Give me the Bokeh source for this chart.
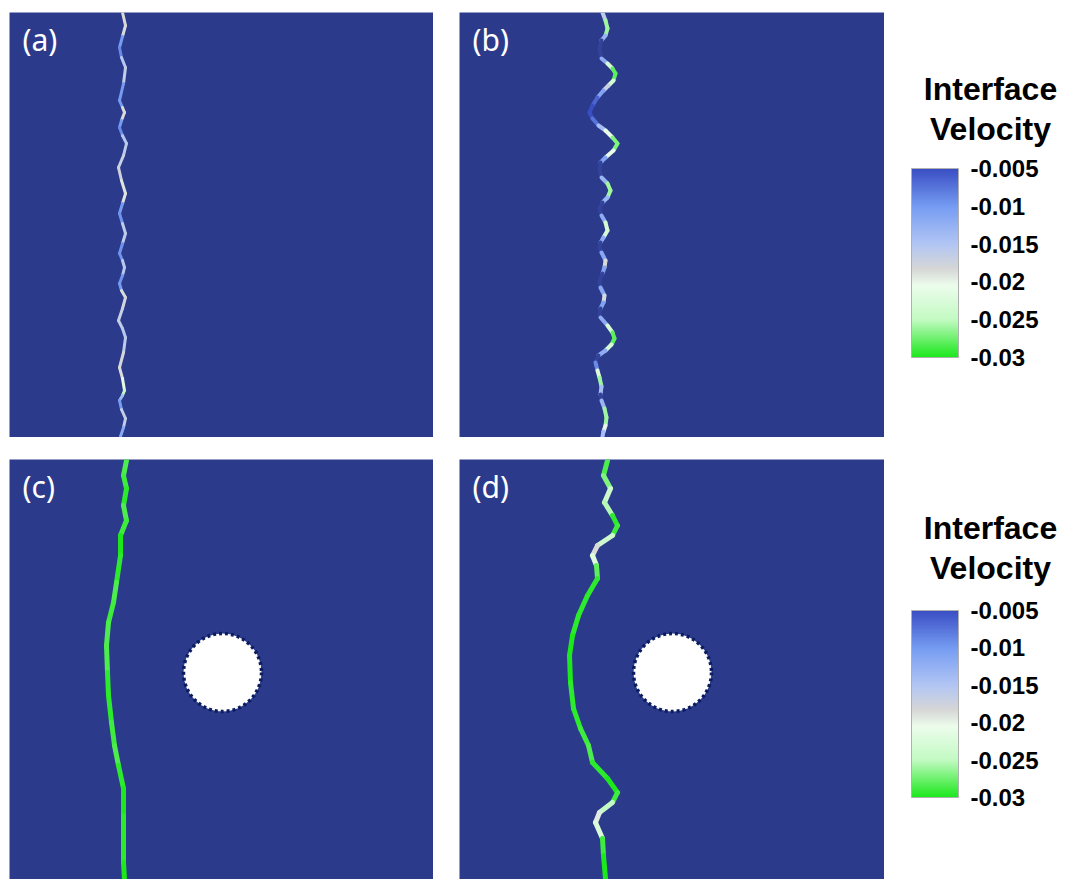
import numpy as np
from bokeh.plotting import figure
from bokeh.layouts import row, column, Spacer
from bokeh.models import (Range1d, ColumnDataSource, LinearColorMapper, Label, ColorBar,
                          FixedTicker, CustomJSTickFormatter, AllLabels)
from bokeh.transform import linear_cmap
from bokeh.embed import file_html
from bokeh.resources import INLINE

# ---------------- data (panel pixel-like grid units, y measured from top) ----------------
# (a) flat front, small ripples
ya = [0, 13, 24, 35, 45, 55, 71, 88, 95, 100, 108, 115, 123, 131, 143, 155, 168, 181, 191, 201,
      211, 221, 231, 241, 248, 255, 263, 271, 278, 285, 296, 308, 316, 325, 340, 355, 366, 378, 383, 388,
      397, 406, 415, 424]
xa = [113, 116, 113, 110, 112, 116, 114, 110, 113, 115, 112, 110, 113, 117, 114, 109, 112, 116, 113, 110,
      113, 116, 113, 110, 113, 115, 113, 110, 112, 116, 113, 109, 113, 116, 114, 110, 113, 115, 113, 110,
      112, 116, 114, 111]
va = [-0.013, -0.024, -0.013, -0.007, -0.011, -0.02, -0.013, -0.007, -0.013, -0.024,
      -0.013, -0.007, -0.011, -0.02, -0.012, -0.022, -0.013, -0.025, -0.013, -0.007,
      -0.012, -0.02, -0.012, -0.007, -0.012, -0.019, -0.012, -0.007, -0.013, -0.024,
      -0.012, -0.022, -0.011, -0.02, -0.012, -0.024, -0.013, -0.03, -0.02, -0.007,
      -0.013, -0.02, -0.013, -0.01]

# (b) front with larger undulations
yb = [0, 8, 16, 23, 28, 37, 46, 51, 56, 61, 68, 73, 78, 85, 93, 100, 106, 113, 118, 125,
      131, 138, 145, 150, 157, 165, 171, 178, 185, 190, 196, 203, 210, 218, 225, 230, 235, 240, 248, 255,
      261, 268, 275, 283, 290, 296, 302, 305, 313, 320, 326, 332, 338, 343, 350, 358, 365, 374, 382, 388,
      396, 405, 413, 419, 424]
xb = [143, 146, 148, 146, 142, 140, 142, 148, 153, 156, 154, 149, 144, 138, 133, 130, 133, 139, 146, 153,
      158, 154, 146, 141, 140, 142, 148, 151, 148, 143, 140, 142, 146, 148, 144, 141, 140, 142, 146, 145,
      143, 140, 141, 145, 144, 141, 140, 141, 148, 153, 155, 152, 146, 139, 136, 138, 140, 142, 141, 142,
      145, 147, 146, 144, 143]
vb = [-0.01, -0.022, -0.03, -0.022, -0.004, -0.002, -0.004, -0.02, -0.026, -0.03,
      -0.026, -0.02, -0.014, -0.008, -0.005, -0.005, -0.005, -0.01, -0.018, -0.024,
      -0.03, -0.024, -0.018, -0.004, -0.002, -0.004, -0.022, -0.03, -0.022, -0.004,
      -0.002, -0.004, -0.02, -0.026, -0.02, -0.004, -0.002, -0.004, -0.019, -0.018,
      -0.004, -0.002, -0.004, -0.019, -0.018, -0.004, -0.002, -0.004, -0.02, -0.026,
      -0.03, -0.026, -0.02, -0.004, -0.002, -0.016, -0.028, -0.024, -0.004, -0.004,
      -0.022, -0.03, -0.022, -0.018, -0.01]

# (c) front with obstacle
yc = [1, 16, 29, 46, 61, 76, 96, 123, 143, 163, 186, 213, 236, 263, 286, 306, 329, 356, 379, 403, 420]
xc = [117, 114, 117, 114, 117, 111, 111, 107, 104, 99, 97, 98, 99, 102, 105, 109, 114, 114, 114, 114, 115]
vc = [-0.029, -0.028, -0.03, -0.029, -0.028, -0.03, -0.03, -0.029, -0.028, -0.03, -0.027,
      -0.03, -0.029, -0.03, -0.028, -0.029, -0.03, -0.03, -0.029, -0.03, -0.03]

# (d) undulating front with obstacle
yd = [1, 16, 29, 43, 56, 66, 76, 86, 96, 106, 119, 136, 156, 176, 196, 223, 249, 269, 286, 303,
      319, 333, 343, 353, 363, 379, 396, 419]
xd = [148, 144, 151, 145, 153, 158, 153, 138, 133, 137, 138, 128, 119, 113, 110, 111, 114, 121, 129, 133,
      148, 158, 153, 140, 136, 143, 144, 146]
vd = [-0.029, -0.028, -0.026, -0.022, -0.029, -0.03, -0.028, -0.02, -0.017, -0.027,
      -0.029, -0.03, -0.029, -0.03, -0.03, -0.03, -0.029, -0.03, -0.028, -0.029,
      -0.03, -0.03, -0.028, -0.022, -0.017, -0.028, -0.03, -0.03]

# obstacle (panels c, d)
obstacle_x = [213]
obstacle_y = [213]
obstacle_r = [39]

panel_labels = ["(a)", "(b)", "(c)", "(d)"]
cb_title = ["Interface", "Velocity"]
cb_ticks = [-0.005, -0.01, -0.015, -0.02, -0.025, -0.03]
cb_tick_labels = ["-0.005", "-0.01", "-0.015", "-0.02", "-0.025", "-0.03"]
VMIN, VMAX = -0.03, -0.005

# ---------------- styling ----------------
BG = "#2c3a8c"
ABOVE = "#33429a"
stops = [(0.0, (28, 232, 28)), (0.2, (195, 250, 195)), (0.38, (236, 252, 236)),
         (0.47, (214, 214, 214)), (0.6, (178, 198, 244)), (0.8, (118, 156, 242)),
         (1.0, (58, 78, 196))]


def make_palette(n=256):
    out = []
    for t in np.linspace(0, 1, n):
        for (t0, c0), (t1, c1) in zip(stops[:-1], stops[1:]):
            if t0 <= t <= t1:
                f = (t - t0) / (t1 - t0)
                c = [int(round(a + (b - a) * f)) for a, b in zip(c0, c1)]
                out.append("#%02x%02x%02x" % tuple(c))
                break
    return out


PALETTE = make_palette()


def panel(w, h, label):
    p = figure(width=w, height=h, x_range=Range1d(0, w), y_range=Range1d(h, 0),
               output_backend="svg", toolbar_location=None, min_border=0,
               x_axis_location=None, y_axis_location=None)
    p.grid.visible = False
    p.background_fill_color = BG
    p.border_fill_color = "white"
    p.outline_line_color = None
    p.add_layout(Label(x=13, y=27, text=label, text_color="white", text_font="Noto Sans",
                       text_font_size="30px", text_baseline="middle", text_align="left"))
    return p


def add_front(p, xs, ys, vs, lw):
    xs = np.asarray(xs, float)
    ys = np.asarray(ys, float)
    vs = np.asarray(vs, float)
    src = ColumnDataSource(dict(x0=xs[:-1], y0=ys[:-1], x1=xs[1:], y1=ys[1:],
                                v=(vs[:-1] + vs[1:]) / 2))
    p.segment("x0", "y0", "x1", "y1", source=src,
              line_color=linear_cmap("v", PALETTE, VMIN, VMAX, high_color=ABOVE),
              line_width=lw, line_cap="round", line_join="round")


def add_obstacle(p):
    src = ColumnDataSource(dict(x=obstacle_x, y=obstacle_y, r=obstacle_r))
    p.circle(x="x", y="y", radius="r", source=src, fill_color="white",
             line_color="#0b1d5e", line_width=3.5, line_dash="3 3")


def colorbar_fig(h, bar_bottom, bar_h, title_y):
    cb = figure(width=181, height=h, x_range=Range1d(0, 181), y_range=Range1d(h, 0),
                output_backend="svg", toolbar_location=None, min_border=0,
                x_axis_location=None, y_axis_location=None)
    cb.grid.visible = False
    cb.outline_line_color = None
    cb.background_fill_color = "white"
    mapper = LinearColorMapper(palette=PALETTE, low=VMIN, high=VMAX)
    bar = ColorBar(color_mapper=mapper, orientation="vertical", width=47, height=bar_h,
                   location=(27, bar_bottom), padding=0, margin=0,
                   ticker=FixedTicker(ticks=cb_ticks),
                   formatter=CustomJSTickFormatter(
                       code="return tick.toFixed(3).replace(/0+$/, '');"),
                   major_label_policy=AllLabels(),
                   label_standoff=12, major_tick_line_color=None, minor_tick_line_color=None,
                   bar_line_color="#b0b0b0", background_fill_alpha=0, border_line_color=None,
                   major_label_text_font="Liberation Sans", major_label_text_font_style="bold",
                   major_label_text_font_size="24px", major_label_text_color="black")
    cb.add_layout(bar, "center")
    for txt, ty in zip(cb_title, title_y):
        cb.add_layout(Label(x=106, y=ty, text=txt, text_align="center",
                            text_baseline="middle", text_font="Liberation Sans",
                            text_font_style="bold", text_font_size="32px", text_color="black"))
    return cb


pa = panel(424, 425, panel_labels[0])
add_front(pa, xa, ya, va, 3)
pb = panel(425, 425, panel_labels[1])
add_front(pb, xb, yb, vb, 4)
pc = panel(424, 420, panel_labels[2])
add_front(pc, xc, yc, vc, 5)
add_obstacle(pc)
pd = panel(425, 420, panel_labels[3])
add_front(pd, xd, yd, vd, 5)
add_obstacle(pd)

cbt = colorbar_fig(425, 80, 189, [76, 116])
cbb = colorbar_fig(420, 82, 187, [68, 108])

top = row(Spacer(width=9, height=425), pa, Spacer(width=26, height=425), pb, cbt)
bot = row(Spacer(width=9, height=420), pc, Spacer(width=26, height=420), pd, cbb)
layout = column(Spacer(width=1065, height=12), top, Spacer(width=1065, height=22), bot)

open("out.html", "w").write(file_html(layout, INLINE))
